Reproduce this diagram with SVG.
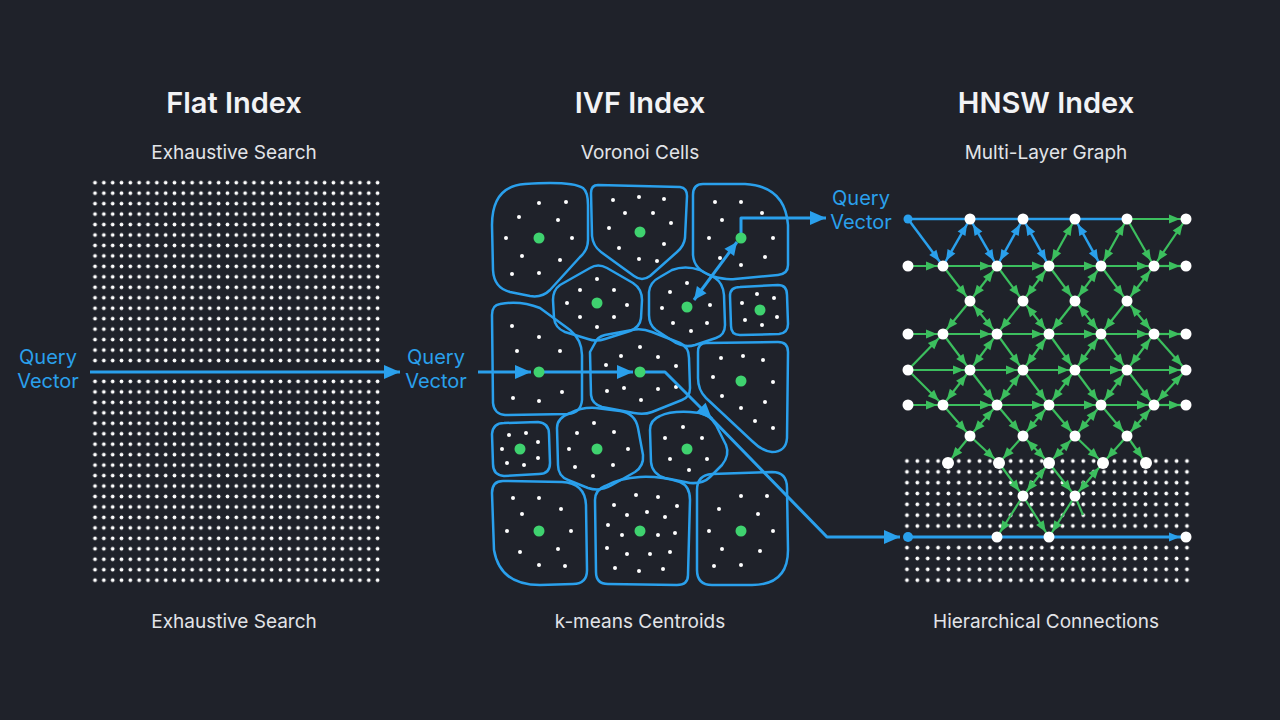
<svg xmlns="http://www.w3.org/2000/svg" width="1280" height="720" viewBox="0 0 1280 720">
<defs>
<style>
.title{font-family:Inter,"Liberation Sans",sans-serif;font-weight:600;font-size:29px;fill:#f2f3f5;text-anchor:middle}
.sub{font-family:Inter,"Liberation Sans",sans-serif;font-size:19px;fill:#e2e4e8;text-anchor:middle}
.qv{font-family:Inter,"Liberation Sans",sans-serif;font-size:20px;fill:#2aa0ec;text-anchor:middle}
.cell{fill:none;stroke:#2aa0ec;stroke-width:2.5;stroke-linejoin:round}
.pt{fill:#ffffff}
.cen{fill:#3fd26f}
.qa{fill:none;stroke:#2aa0ec;stroke-width:3;stroke-linejoin:round}
.b{stroke:#2aa0ec;stroke-width:2.5;fill:none}
.g{stroke:#3cbf5e;stroke-width:2.2;fill:none}
.be{marker-end:url(#bs)}
.bd{marker-start:url(#bs);marker-end:url(#bs)}
.ge{marker-end:url(#gs)}
.gd{marker-start:url(#gs);marker-end:url(#gs)}
.nd{fill:#ffffff}
.bn{fill:#2aa0ec}
</style>
<pattern id="flatdots" patternUnits="userSpaceOnUse" x="90.6" y="177.47" width="8.83" height="10.46">
<circle cx="4.415" cy="5.23" r="1.9" fill="#ffffff"/>
</pattern>
<pattern id="hdots" patternUnits="userSpaceOnUse" x="901.8" y="455.6" width="10.37" height="10.83">
<circle cx="5.185" cy="5.415" r="1.9" fill="#ffffff"/>
</pattern>
<marker id="big" markerUnits="userSpaceOnUse" markerWidth="16" markerHeight="14" refX="16" refY="7" orient="auto" overflow="visible">
<path d="M0,0 L16,7 L0,14 z" fill="#2aa0ec"/>
</marker>
<marker id="mid" markerUnits="userSpaceOnUse" markerWidth="13" markerHeight="12" refX="13" refY="6" orient="auto-start-reverse" overflow="visible">
<path d="M0,0 L13,6 L0,12 z" fill="#2aa0ec"/>
</marker>
<marker id="bs" markerUnits="userSpaceOnUse" markerWidth="17" markerHeight="9" refX="17" refY="4.5" orient="auto-start-reverse" overflow="visible">
<path d="M0,0 L11,4.5 L0,9 z" fill="#2aa0ec"/>
</marker>
<marker id="gs" markerUnits="userSpaceOnUse" markerWidth="17" markerHeight="9" refX="17" refY="4.5" orient="auto-start-reverse" overflow="visible">
<path d="M0,0 L11,4.5 L0,9 z" fill="#3cbf5e"/>
</marker>
</defs>
<rect width="1280" height="720" fill="#1f222a"/>

<g id="flat-index">
<text class="title" x="234" y="113">Flat Index</text>
<text class="sub" x="234" y="159">Exhaustive Search</text>
<rect x="90.6" y="177.47" width="291.4" height="188.3" fill="url(#flatdots)"/>
<rect x="90.6" y="376.2" width="291.4" height="209.2" fill="url(#flatdots)"/>
<text class="sub" x="234" y="628">Exhaustive Search</text>
</g>

<g id="flat-query">
<text class="qv" x="48" y="364">Query</text>
<text class="qv" x="48" y="388">Vector</text>
</g>

<g id="ivf-index">
<text class="title" x="640" y="113">IVF Index</text>
<text class="sub" x="640" y="159">Voronoi Cells</text>
<text class="sub" x="640" y="628">k-means Centroids</text>
</g>

<g id="ivf-query">
<text class="qv" x="436" y="364">Query</text>
<text class="qv" x="436" y="388">Vector</text>
</g>

<g id="ivf-cells">
<path class="cell" d="M525,184 C555,182 575,183 583,188 Q588,192 588,205 L588,240 Q588,250 580,257 L550,290 Q542,298 530,296 L510,292 Q494,288 493,270 L492,225 Q492,186 525,184 Z"/>
<path class="cell" d="M598,185 L680,187 Q687,188 687,196 L685,238 Q684,246 677,252 L650,276 Q642,282 634,276 L601,252 Q593,246 592,236 L591,193 Q591,185 598,185 Z"/>
<path class="cell" d="M703,184 L745,184 Q785,186 788,225 L788,265 Q788,274 778,275 L735,279 Q725,280 712,276 Q694,270 693,255 L693,195 Q693,184 703,184 Z"/>
<path class="cell" d="M590,268 Q598,263 607,268 L633,283 Q642,289 642,300 L641,318 Q640,327 630,331 L605,339 Q596,342 588,339 L565,332 Q555,328 554,318 L553,300 Q553,290 560,285 Z"/>
<path class="cell" d="M672,270 Q685,265 700,270 L715,278 Q723,283 724,295 L725,325 Q725,335 716,338 L695,345 Q685,348 676,343 L656,330 Q649,325 649,315 L649,292 Q650,282 660,277 Z"/>
<path class="cell" d="M740,287 L778,285 Q787,285 787,295 L788,324 Q788,333 779,334 L740,335 Q731,335 731,326 L730,296 Q730,287 740,287 Z"/>
<path class="cell" d="M500,304 Q520,300 540,308 L570,330 Q582,340 582,355 L582,400 Q581,413 568,414 L505,415 Q494,414 493,403 L492,315 Q492,305 500,304 Z"/>
<path class="cell" d="M595,343 Q597,337 605,335 L632,330 Q642,328 652,332 L680,343 Q689,347 689,358 L690,388 Q690,397 682,400 L652,412 Q644,415 634,413 L602,407 Q592,404 591,395 L590,352 Z"/>
<path class="cell" d="M706,343 L778,342 Q788,342 788,352 L787,438 Q786,452 772,452 Q762,451 752,441 L706,398 Q698,390 698,378 L698,352 Q698,343 706,343 Z"/>
<path class="cell" d="M504,423 L538,422 Q549,423 549,434 L550,463 Q550,474 539,474 L504,476 Q493,475 493,464 L492,434 Q493,423 504,423 Z"/>
<path class="cell" d="M570,413 Q582,407 596,408 L620,411 Q635,413 638,428 L643,455 Q644,466 635,472 L612,485 Q600,492 588,488 L568,480 Q558,476 558,465 L557,428 Q557,418 570,413 Z"/>
<path class="cell" d="M660,416 Q670,411 690,412 L700,413 Q710,415 716,425 L726,445 Q730,455 722,465 L710,477 Q703,484 690,483 L665,478 Q652,474 651,462 L650,430 Q650,420 660,416 Z"/>
<path class="cell" d="M503,481 L562,482 Q585,483 586,505 L587,570 Q587,584 573,584 L540,585 Q500,585 494,550 L492,493 Q492,481 503,481 Z"/>
<path class="cell" d="M605,486 Q620,478 640,477 Q660,476 680,482 Q690,486 690,500 L688,575 Q688,585 677,585 L608,584 Q596,584 596,572 L595,500 Q595,490 605,486 Z"/>
<path class="cell" d="M712,474 L772,472 Q787,472 787,488 L788,550 Q788,585 752,585 L712,585 Q697,585 697,570 L697,490 Q697,475 712,474 Z"/>
</g>

<g id="ivf-points" class="pt">
<circle cx="539" cy="203" r="2"/><circle cx="566" cy="202" r="2"/><circle cx="519" cy="217" r="2"/><circle cx="558" cy="220" r="2"/><circle cx="506" cy="238" r="2"/><circle cx="572" cy="238" r="2"/><circle cx="522" cy="256" r="2"/><circle cx="560" cy="260" r="2"/><circle cx="512" cy="274" r="2"/><circle cx="539" cy="273" r="2"/>
<circle cx="613" cy="200" r="2"/><circle cx="639" cy="197" r="2"/><circle cx="664" cy="199" r="2"/><circle cx="625" cy="213" r="2"/><circle cx="653" cy="213" r="2"/><circle cx="671" cy="223" r="2"/><circle cx="609" cy="228" r="2"/><circle cx="619" cy="248" r="2"/><circle cx="664" cy="244" r="2"/><circle cx="639" cy="259" r="2"/><circle cx="657" cy="261" r="2"/>
<circle cx="715" cy="202" r="2"/><circle cx="741" cy="202" r="2"/><circle cx="762" cy="213" r="2"/><circle cx="722" cy="220" r="2"/><circle cx="709" cy="238" r="2"/><circle cx="773" cy="238" r="2"/><circle cx="720" cy="258" r="2"/><circle cx="741" cy="265" r="2"/><circle cx="765" cy="257" r="2"/>
<circle cx="597" cy="279" r="2"/><circle cx="580" cy="290" r="2"/><circle cx="614" cy="290" r="2"/><circle cx="567" cy="303" r="2"/><circle cx="627" cy="305" r="2"/><circle cx="580" cy="317" r="2"/><circle cx="614" cy="317" r="2"/><circle cx="597" cy="327" r="2"/>
<circle cx="687" cy="283" r="2"/><circle cx="670" cy="292" r="2"/><circle cx="710" cy="305" r="2"/><circle cx="662" cy="308" r="2"/><circle cx="673" cy="323" r="2"/><circle cx="707" cy="323" r="2"/><circle cx="691" cy="331" r="2"/>
<circle cx="757" cy="294" r="2"/><circle cx="774" cy="298" r="2"/><circle cx="742" cy="303" r="2"/><circle cx="777" cy="317" r="2"/><circle cx="745" cy="320" r="2"/><circle cx="762" cy="325" r="2"/>
<circle cx="512" cy="326" r="2"/><circle cx="539" cy="337" r="2"/><circle cx="517" cy="351" r="2"/><circle cx="560" cy="351" r="2"/><circle cx="513" cy="398" r="2"/><circle cx="539" cy="401" r="2"/><circle cx="562" cy="392" r="2"/>
<circle cx="640" cy="347" r="2"/><circle cx="621" cy="356" r="2"/><circle cx="658" cy="357" r="2"/><circle cx="606" cy="365" r="2"/><circle cx="676" cy="366" r="2"/><circle cx="607" cy="391" r="2"/><circle cx="624" cy="388" r="2"/><circle cx="658" cy="389" r="2"/><circle cx="676" cy="387" r="2"/><circle cx="641" cy="400" r="2"/>
<circle cx="721" cy="358" r="2"/><circle cx="743" cy="356" r="2"/><circle cx="763" cy="360" r="2"/><circle cx="713" cy="377" r="2"/><circle cx="773" cy="382" r="2"/><circle cx="722" cy="396" r="2"/><circle cx="765" cy="402" r="2"/><circle cx="741" cy="408" r="2"/><circle cx="755" cy="421" r="2"/><circle cx="773" cy="428" r="2"/>
<circle cx="509" cy="435" r="2"/><circle cx="526" cy="433" r="2"/><circle cx="538" cy="442" r="2"/><circle cx="502" cy="449" r="2"/><circle cx="538" cy="458" r="2"/><circle cx="507" cy="463" r="2"/><circle cx="524" cy="465" r="2"/>
<circle cx="594" cy="423" r="2"/><circle cx="577" cy="433" r="2"/><circle cx="614" cy="432" r="2"/><circle cx="569" cy="449" r="2"/><circle cx="628" cy="449" r="2"/><circle cx="575" cy="467" r="2"/><circle cx="613" cy="465" r="2"/><circle cx="593" cy="476" r="2"/>
<circle cx="683" cy="427" r="2"/><circle cx="665" cy="438" r="2"/><circle cx="702" cy="438" r="2"/><circle cx="670" cy="459" r="2"/><circle cx="707" cy="459" r="2"/><circle cx="689" cy="470" r="2"/>
<circle cx="513" cy="498" r="2"/><circle cx="539" cy="498" r="2"/><circle cx="561" cy="509" r="2"/><circle cx="522" cy="514" r="2"/><circle cx="507" cy="531" r="2"/><circle cx="571" cy="531" r="2"/><circle cx="520" cy="552" r="2"/><circle cx="558" cy="549" r="2"/><circle cx="539" cy="565" r="2"/><circle cx="565" cy="566" r="2"/>
<circle cx="636" cy="495" r="2"/><circle cx="658" cy="497" r="2"/><circle cx="614" cy="505" r="2"/><circle cx="677" cy="506" r="2"/><circle cx="627" cy="515" r="2"/><circle cx="647" cy="512" r="2"/><circle cx="665" cy="517" r="2"/><circle cx="608" cy="525" r="2"/><circle cx="622" cy="535" r="2"/><circle cx="658" cy="535" r="2"/><circle cx="675" cy="533" r="2"/><circle cx="607" cy="548" r="2"/><circle cx="627" cy="554" r="2"/><circle cx="650" cy="554" r="2"/><circle cx="670" cy="552" r="2"/><circle cx="615" cy="568" r="2"/><circle cx="639" cy="571" r="2"/><circle cx="663" cy="569" r="2"/>
<circle cx="741" cy="496" r="2"/><circle cx="767" cy="496" r="2"/><circle cx="719" cy="509" r="2"/><circle cx="758" cy="514" r="2"/><circle cx="709" cy="531" r="2"/><circle cx="773" cy="531" r="2"/><circle cx="722" cy="549" r="2"/><circle cx="760" cy="551" r="2"/><circle cx="714" cy="566" r="2"/><circle cx="741" cy="565" r="2"/>
</g>

<g id="hnsw-index">
<text class="title" x="1046" y="113">HNSW Index</text>
<text class="sub" x="1046" y="159">Multi-Layer Graph</text>
<rect x="901.8" y="455.6" width="290.4" height="75.8" fill="url(#hdots)"/>
<rect x="901.8" y="542.24" width="290.4" height="43.32" fill="url(#hdots)"/>
<text class="sub" x="1046" y="628">Hierarchical Connections</text>
</g>

<g id="hnsw-query">
<text class="qv" x="861" y="205">Query</text>
<text class="qv" x="861" y="229">Vector</text>
</g>

<g id="connectors">
<line class="qa" x1="90" y1="372" x2="400" y2="372" marker-end="url(#big)"/>
<line class="qa" x1="478" y1="372" x2="531" y2="372" marker-end="url(#big)"/>
<line class="qa" x1="539" y1="372" x2="633" y2="372" marker-end="url(#big)"/>
<polyline class="qa" points="640,372 665,372 712,419" marker-end="url(#big)"/>
<polyline class="qa" points="710,417 827,537 900,537" marker-end="url(#big)"/>
<polyline class="qa" points="741,236 741,218 826,218" marker-end="url(#big)"/>
<line class="qa" x1="737" y1="242" x2="694" y2="300" marker-start="url(#mid)" marker-end="url(#mid)"/>

<line class="b" x1="908" y1="219" x2="1127" y2="219"/>
<line class="g ge" x1="1127" y1="219" x2="1186" y2="219"/>
<line class="b be" x1="908" y1="219" x2="943" y2="266"/>
<line class="b bd" x1="970" y1="219" x2="943" y2="266"/>
<line class="b bd" x1="970" y1="219" x2="997" y2="266"/>
<line class="b bd" x1="1023" y1="219" x2="997" y2="266"/>
<line class="b bd" x1="1023" y1="219" x2="1049" y2="266"/>
<line class="g gd" x1="1075" y1="219" x2="1049" y2="266"/>
<line class="b bd" x1="1075" y1="219" x2="1101" y2="266"/>
<line class="g gd" x1="1127" y1="219" x2="1101" y2="266"/>
<line class="g ge" x1="1127" y1="219" x2="1154" y2="266"/>
<line class="g gd" x1="1186" y1="219" x2="1154" y2="266"/>

<line class="g ge" x1="908" y1="266" x2="943" y2="266"/>
<line class="g ge" x1="943" y1="266" x2="997" y2="266"/>
<line class="g ge" x1="997" y1="266" x2="1049" y2="266"/>
<line class="g ge" x1="1049" y1="266" x2="1101" y2="266"/>
<line class="g ge" x1="1101" y1="266" x2="1154" y2="266"/>
<line class="g ge" x1="1154" y1="266" x2="1186" y2="266"/>

<line class="g ge" x1="943" y1="266" x2="970" y2="301"/>
<line class="g gd" x1="997" y1="266" x2="970" y2="301"/>
<line class="g ge" x1="997" y1="266" x2="1023" y2="301"/>
<line class="g gd" x1="1049" y1="266" x2="1023" y2="301"/>
<line class="g ge" x1="1049" y1="266" x2="1075" y2="301"/>
<line class="g gd" x1="1101" y1="266" x2="1075" y2="301"/>
<line class="g ge" x1="1101" y1="266" x2="1127" y2="301"/>
<line class="g gd" x1="1154" y1="266" x2="1127" y2="301"/>

<line class="g ge" x1="970" y1="301" x2="943" y2="334"/>
<line class="g gd" x1="970" y1="301" x2="997" y2="334"/>
<line class="g ge" x1="1023" y1="301" x2="997" y2="334"/>
<line class="g gd" x1="1023" y1="301" x2="1049" y2="334"/>
<line class="g ge" x1="1075" y1="301" x2="1049" y2="334"/>
<line class="g gd" x1="1075" y1="301" x2="1101" y2="334"/>
<line class="g ge" x1="1127" y1="301" x2="1101" y2="334"/>
<line class="g gd" x1="1127" y1="301" x2="1154" y2="334"/>

<line class="g ge" x1="908" y1="334" x2="943" y2="334"/>
<line class="g ge" x1="943" y1="334" x2="997" y2="334"/>
<line class="g ge" x1="997" y1="334" x2="1049" y2="334"/>
<line class="g ge" x1="1049" y1="334" x2="1101" y2="334"/>
<line class="g ge" x1="1101" y1="334" x2="1154" y2="334"/>
<line class="g ge" x1="1154" y1="334" x2="1186" y2="334"/>

<line class="g ge" x1="908" y1="370" x2="943" y2="334"/>
<line class="g ge" x1="943" y1="334" x2="970" y2="370"/>
<line class="g gd" x1="997" y1="334" x2="970" y2="370"/>
<line class="g ge" x1="997" y1="334" x2="1023" y2="370"/>
<line class="g gd" x1="1049" y1="334" x2="1023" y2="370"/>
<line class="g ge" x1="1049" y1="334" x2="1075" y2="370"/>
<line class="g gd" x1="1101" y1="334" x2="1075" y2="370"/>
<line class="g ge" x1="1101" y1="334" x2="1127" y2="370"/>
<line class="g gd" x1="1154" y1="334" x2="1127" y2="370"/>
<line class="g ge" x1="1154" y1="334" x2="1186" y2="370"/>

<line class="g ge" x1="908" y1="370" x2="970" y2="370"/>
<line class="g ge" x1="970" y1="370" x2="1023" y2="370"/>
<line class="g ge" x1="1023" y1="370" x2="1075" y2="370"/>
<line class="g ge" x1="1075" y1="370" x2="1127" y2="370"/>
<line class="g ge" x1="1127" y1="370" x2="1186" y2="370"/>

<line class="g ge" x1="908" y1="370" x2="943" y2="405"/>
<line class="g gd" x1="970" y1="370" x2="943" y2="405"/>
<line class="g ge" x1="970" y1="370" x2="997" y2="405"/>
<line class="g gd" x1="1023" y1="370" x2="997" y2="405"/>
<line class="g ge" x1="1023" y1="370" x2="1049" y2="405"/>
<line class="g gd" x1="1075" y1="370" x2="1049" y2="405"/>
<line class="g ge" x1="1075" y1="370" x2="1101" y2="405"/>
<line class="g gd" x1="1127" y1="370" x2="1101" y2="405"/>
<line class="g ge" x1="1127" y1="370" x2="1154" y2="405"/>
<line class="g gd" x1="1186" y1="370" x2="1154" y2="405"/>

<line class="g ge" x1="908" y1="405" x2="943" y2="405"/>
<line class="g ge" x1="943" y1="405" x2="997" y2="405"/>
<line class="g ge" x1="997" y1="405" x2="1049" y2="405"/>
<line class="g ge" x1="1049" y1="405" x2="1101" y2="405"/>
<line class="g ge" x1="1101" y1="405" x2="1154" y2="405"/>
<line class="g ge" x1="1154" y1="405" x2="1186" y2="405"/>

<line class="g ge" x1="943" y1="405" x2="970" y2="436"/>
<line class="g gd" x1="997" y1="405" x2="970" y2="436"/>
<line class="g ge" x1="997" y1="405" x2="1023" y2="436"/>
<line class="g gd" x1="1049" y1="405" x2="1023" y2="436"/>
<line class="g ge" x1="1049" y1="405" x2="1075" y2="436"/>
<line class="g gd" x1="1101" y1="405" x2="1075" y2="436"/>
<line class="g ge" x1="1101" y1="405" x2="1127" y2="436"/>
<line class="g gd" x1="1154" y1="405" x2="1127" y2="436"/>

<line class="g ge" x1="970" y1="436" x2="948" y2="463"/>
<line class="g ge" x1="970" y1="436" x2="999" y2="463"/>
<line class="g ge" x1="1023" y1="436" x2="999" y2="463"/>
<line class="g gd" x1="1023" y1="436" x2="1049" y2="463"/>
<line class="g gd" x1="1075" y1="436" x2="1049" y2="463"/>
<line class="g ge" x1="1075" y1="436" x2="1103" y2="463"/>
<line class="g ge" x1="1127" y1="436" x2="1103" y2="463"/>
<line class="g ge" x1="1127" y1="436" x2="1146" y2="463"/>

<line class="g ge" x1="999" y1="463" x2="1023" y2="496"/>
<line class="g gd" x1="1049" y1="463" x2="1023" y2="496"/>
<line class="g ge" x1="1049" y1="463" x2="1075" y2="496"/>
<line class="g gd" x1="1103" y1="463" x2="1075" y2="496"/>

<line class="g ge" x1="1023" y1="496" x2="997" y2="537"/>
<line class="g ge" x1="1023" y1="496" x2="1049" y2="537"/>
<line class="g ge" x1="1075" y1="496" x2="1049" y2="537"/>
<line class="g" x1="1075" y1="496" x2="1083" y2="515"/>

<line class="b be" x1="908" y1="537" x2="1186" y2="537" style="stroke-width:3"/>
</g>

<g id="ivf-centroids" class="cen">
<circle cx="539" cy="238" r="5.5"/><circle cx="640" cy="232" r="5.5"/><circle cx="741" cy="238" r="5.5"/>
<circle cx="597" cy="303" r="5.5"/><circle cx="687" cy="307" r="5.5"/><circle cx="760" cy="310" r="5.5"/>
<circle cx="539" cy="372" r="5.5"/><circle cx="640" cy="372" r="5.5"/><circle cx="741" cy="381" r="5.5"/>
<circle cx="520" cy="449" r="5.5"/><circle cx="597" cy="449" r="5.5"/><circle cx="687" cy="449" r="5.5"/>
<circle cx="539" cy="531" r="5.5"/><circle cx="640" cy="531" r="5.5"/><circle cx="741" cy="531" r="5.5"/>
</g>

<g id="hnsw-nodes" class="nd">
<circle cx="970" cy="219" r="5.5"/><circle cx="1023" cy="219" r="5.5"/><circle cx="1075" cy="219" r="5.5"/><circle cx="1127" cy="219" r="5.5"/><circle cx="1186" cy="219" r="5.5"/>
<circle cx="908" cy="266" r="5.5"/><circle cx="943" cy="266" r="5.5"/><circle cx="997" cy="266" r="5.5"/><circle cx="1049" cy="266" r="5.5"/><circle cx="1101" cy="266" r="5.5"/><circle cx="1154" cy="266" r="5.5"/><circle cx="1186" cy="266" r="5.5"/>
<circle cx="970" cy="301" r="5.5"/><circle cx="1023" cy="301" r="5.5"/><circle cx="1075" cy="301" r="5.5"/><circle cx="1127" cy="301" r="5.5"/>
<circle cx="908" cy="334" r="5.5"/><circle cx="943" cy="334" r="5.5"/><circle cx="997" cy="334" r="5.5"/><circle cx="1049" cy="334" r="5.5"/><circle cx="1101" cy="334" r="5.5"/><circle cx="1154" cy="334" r="5.5"/><circle cx="1186" cy="334" r="5.5"/>
<circle cx="908" cy="370" r="5.5"/><circle cx="970" cy="370" r="5.5"/><circle cx="1023" cy="370" r="5.5"/><circle cx="1075" cy="370" r="5.5"/><circle cx="1127" cy="370" r="5.5"/><circle cx="1186" cy="370" r="5.5"/>
<circle cx="908" cy="405" r="5.5"/><circle cx="943" cy="405" r="5.5"/><circle cx="997" cy="405" r="5.5"/><circle cx="1049" cy="405" r="5.5"/><circle cx="1101" cy="405" r="5.5"/><circle cx="1154" cy="405" r="5.5"/><circle cx="1186" cy="405" r="5.5"/>
<circle cx="970" cy="436" r="5.5"/><circle cx="1023" cy="436" r="5.5"/><circle cx="1075" cy="436" r="5.5"/><circle cx="1127" cy="436" r="5.5"/>
<circle cx="948" cy="463" r="6"/><circle cx="999" cy="463" r="6"/><circle cx="1049" cy="463" r="6"/><circle cx="1103" cy="463" r="6"/><circle cx="1146" cy="463" r="6"/>
<circle cx="1023" cy="496" r="5.5"/><circle cx="1075" cy="496" r="5.5"/>
<circle cx="997" cy="537" r="5.5"/><circle cx="1049" cy="537" r="5.5"/><circle cx="1186" cy="537" r="5.5"/>
<circle class="bn" cx="908" cy="219" r="4.5"/><circle class="bn" cx="908" cy="537" r="5"/>
</g>
</svg>
